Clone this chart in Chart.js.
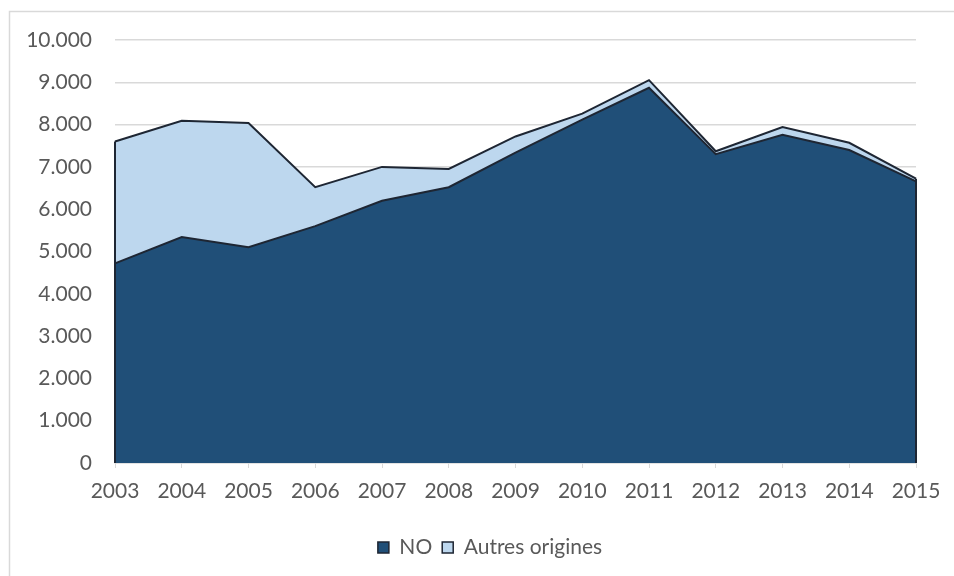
<!DOCTYPE html>
<html>
<head>
<meta charset="utf-8">
<script src="https://cdn.jsdelivr.net/npm/chart.js@4.4.1/dist/chart.umd.min.js"></script>
<style>
  html, body { margin: 0; padding: 0; background: #ffffff; }
  #wrap { position: relative; width: 954px; height: 576px; }
</style>
</head>
<body>
<div id="wrap"><canvas id="c" width="954" height="576"></canvas></div>
<script>
// ---- data ----
const years = ['2003','2004','2005','2006','2007','2008','2009','2010','2011','2012','2013','2014','2015'];
const seriesNO = [4720, 5340, 5100, 5600, 6200, 6520, 7340, 8120, 8870, 7300, 7760, 7400, 6660];
const seriesAutres = [2880, 2750, 2940, 920, 800, 430, 380, 140, 180, 70, 180, 170, 60];
const yTicks = [0, 1000, 2000, 3000, 4000, 5000, 6000, 7000, 8000, 9000, 10000];
const seriesNames = ['NO', 'Autres origines'];

const FONT = 'Lato, "Open Sans", "Liberation Sans", sans-serif';
const TEXT = '#595959';
const GRID = '#D9D9D9';
const EDGE = '#1E2633';

function fmt(v) {
  return String(v).replace(/\B(?=(\d{3})+(?!\d))/g, '.');
}

const frame = {
  id: 'frame',
  beforeDraw(chart) {
    const ctx = chart.ctx;
    ctx.save();
    ctx.strokeStyle = GRID;
    ctx.lineWidth = 1.5;
    ctx.beginPath();
    ctx.moveTo(9.5, 576);
    ctx.lineTo(9.5, 11.5);
    ctx.lineTo(954, 11.5);
    ctx.stroke();
    ctx.restore();
  }
};

// shift legend so it is centred like the original
const legendShift = {
  id: 'legendShift',
  afterLayout(chart) {
    if (chart.legend) {
      chart.legend.left += 32;
      chart.legend.right += 32;
    }
  }
};

const edges = {
  id: 'edges',
  afterDatasetsDraw(chart) {
    const ctx = chart.ctx;
    const top = chart.getDatasetMeta(1).data;
    const yBase = chart.scales.y.getPixelForValue(0);
    ctx.save();
    ctx.strokeStyle = EDGE;
    ctx.lineWidth = 2;
    [0, top.length - 1].forEach(i => {
      const p = top[i];
      ctx.beginPath();
      ctx.moveTo(p.x, p.y);
      ctx.lineTo(p.x, yBase);
      ctx.stroke();
    });
    ctx.restore();
  }
};

new Chart(document.getElementById('c'), {
  type: 'line',
  data: {
    labels: years,
    datasets: [
      {
        label: seriesNames[0],
        data: seriesNO,
        backgroundColor: '#204F78',
        borderColor: EDGE,
        borderWidth: 2,
        fill: 'origin',
        pointRadius: 0,
        tension: 0
      },
      {
        label: seriesNames[1],
        data: seriesAutres,
        backgroundColor: '#BDD7EE',
        borderColor: EDGE,
        borderWidth: 2,
        fill: '-1',
        pointRadius: 0,
        tension: 0
      }
    ]
  },
  options: {
    responsive: false,
    animation: false,
    devicePixelRatio: 1,
    layout: { padding: { top: 40, left: 0, right: 38, bottom: 8 } },
    plugins: {
      tooltip: { enabled: false },
      legend: {
        position: 'bottom',
        labels: {
          color: TEXT,
          font: { family: FONT, size: 21 },
          boxWidth: 11,
          boxHeight: 11,
          padding: 10,
          generateLabels(chart) {
            return chart.data.datasets.map((ds, i) => ({
              text: ds.label,
              fillStyle: ds.backgroundColor,
              strokeStyle: EDGE,
              lineWidth: 1.5,
              hidden: false,
              datasetIndex: i,
              fontColor: TEXT
            }));
          }
        }
      }
    },
    scales: {
      x: {
        type: 'category',
        offset: false,
        grid: {
          display: true,
          drawOnChartArea: false,
          drawTicks: true,
          tickLength: 5,
          color: GRID
        },
        border: { display: true, color: GRID, width: 1.5 },
        ticks: {
          color: TEXT,
          font: { family: FONT, size: 21 },
          padding: 11,
          maxRotation: 0,
          autoSkip: false
        },
        afterFit(scale) { scale.height = 64; }
      },
      y: {
        stacked: true,
        min: 0,
        max: 10000,
        afterBuildTicks(scale) { scale.ticks = yTicks.map(v => ({ value: v })); },
        grid: {
          color: GRID,
          lineWidth: 1.5,
          drawTicks: false
        },
        border: { display: false },
        ticks: {
          color: TEXT,
          font: { family: FONT, size: 21 },
          padding: 23,
          callback: v => fmt(v)
        },
        afterFit(scale) { scale.width = 115; }
      }
    }
  },
  plugins: [frame, legendShift, edges]
});
</script>
</body>
</html>
